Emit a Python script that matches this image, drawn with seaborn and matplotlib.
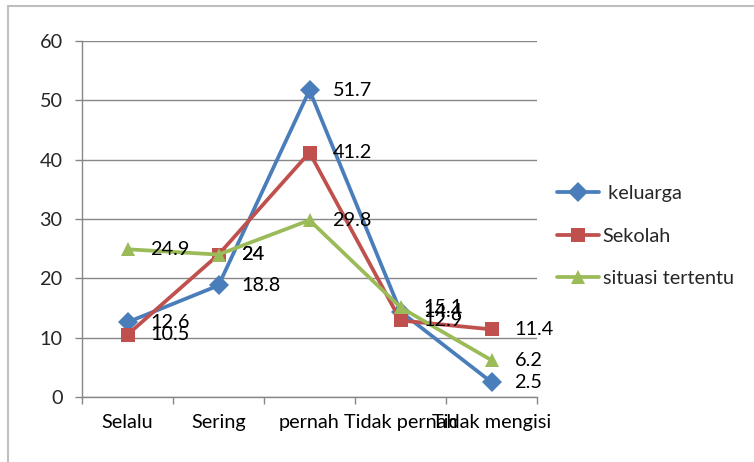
import numpy as np
import pandas as pd
import matplotlib
matplotlib.use("Agg")
import matplotlib.pyplot as plt
import seaborn as sns
from matplotlib.lines import Line2D

categories = ["Selalu", "Sering", "pernah", "Tidak pernah", "Tidak mengisi"]
keluarga = [12.6, 18.8, 51.7, 14.4, 2.5]
sekolah = [10.5, 24, 41.2, 12.9, 11.4]
situasi = [24.9, 24, 29.8, 15.1, 6.2]
series_names = [" keluarga", "Sekolah", "situasi tertentu"]
y_ticks = [0, 10, 20, 30, 40, 50, 60]

colors = {" keluarga": "#4A7EBB", "Sekolah": "#C0504D", "situasi tertentu": "#9BBB59"}
markers = {" keluarga": "D", "Sekolah": "s", "situasi tertentu": "^"}

rows = []
for name, vals in zip(series_names, [keluarga, sekolah, situasi]):
    for i, v in enumerate(vals):
        rows.append({"idx": i, "cat": categories[i], "val": v, "series": name})
df = pd.DataFrame(rows)

sns.set_theme(style="white")
plt.rcParams["font.family"] = ["Lato", "DejaVu Sans"]

FS = 14.3

fig = plt.figure(figsize=(7.54, 4.62), dpi=100)
ax = fig.add_axes([82/754, 1-397/462, (537-82)/754, (397-41)/462])

sns.lineplot(data=df, x="idx", y="val", hue="series", style="series",
             hue_order=series_names, style_order=series_names,
             palette=colors, markers=markers, dashes=False,
             linewidth=2.7, markersize=10, markeredgewidth=0, ax=ax, legend=False)

# data labels
for name, vals in zip(series_names, [keluarga, sekolah, situasi]):
    for i, v in enumerate(vals):
        lab = f"{v:g}"
        ax.annotate(lab, (i, v), xytext=(23, 0), textcoords="offset pixels",
                    va="center", ha="left", fontsize=FS, color="black")

ax.set_xlim(-0.5, 4.5)
ax.set_ylim(0, 60)
ax.set_yticks(y_ticks)
ax.set_xticks(range(len(categories)))
ax.set_xticklabels(categories)
ax.set_xticks(np.arange(-0.5, 5.0, 1.0), minor=True)
ax.tick_params(axis="x", which="major", length=0, pad=12, labelsize=FS, colors="black")
ax.tick_params(axis="x", which="minor", length=5, width=1, color="#878787", direction="out", bottom=True)
ax.tick_params(axis="y", which="major", length=5, width=1, color="#878787", direction="out", left=True, pad=9, labelsize=FS)
ax.set_xlabel("")
ax.set_ylabel("")
ax.yaxis.grid(True, color="#878787", linewidth=1.0)
ax.set_axisbelow(True)
for s in ["top", "right"]:
    ax.spines[s].set_visible(False)
for s in ["left", "bottom"]:
    ax.spines[s].set_color("#878787")
    ax.spines[s].set_linewidth(1.0)

handles = [Line2D([0], [0], color=colors[n], marker=markers[n], lw=2.7,
                  markersize=10, markeredgewidth=0) for n in series_names]
fig.legend(handles, series_names, loc="center left", bbox_to_anchor=(557/754, 1-236/462),
           frameon=False, fontsize=FS, handlelength=2.1, handletextpad=0.2,
           labelspacing=1.3, borderpad=0, borderaxespad=0)

# outer border
fig.add_artist(Line2D([8/754, 8/754], [0, 1-6/462], transform=fig.transFigure, color="#BFBFBF", lw=1.5))
fig.add_artist(Line2D([8/754, 1], [1-6/462, 1-6/462], transform=fig.transFigure, color="#BFBFBF", lw=1.5))

fig.savefig("out.png", dpi=100)
